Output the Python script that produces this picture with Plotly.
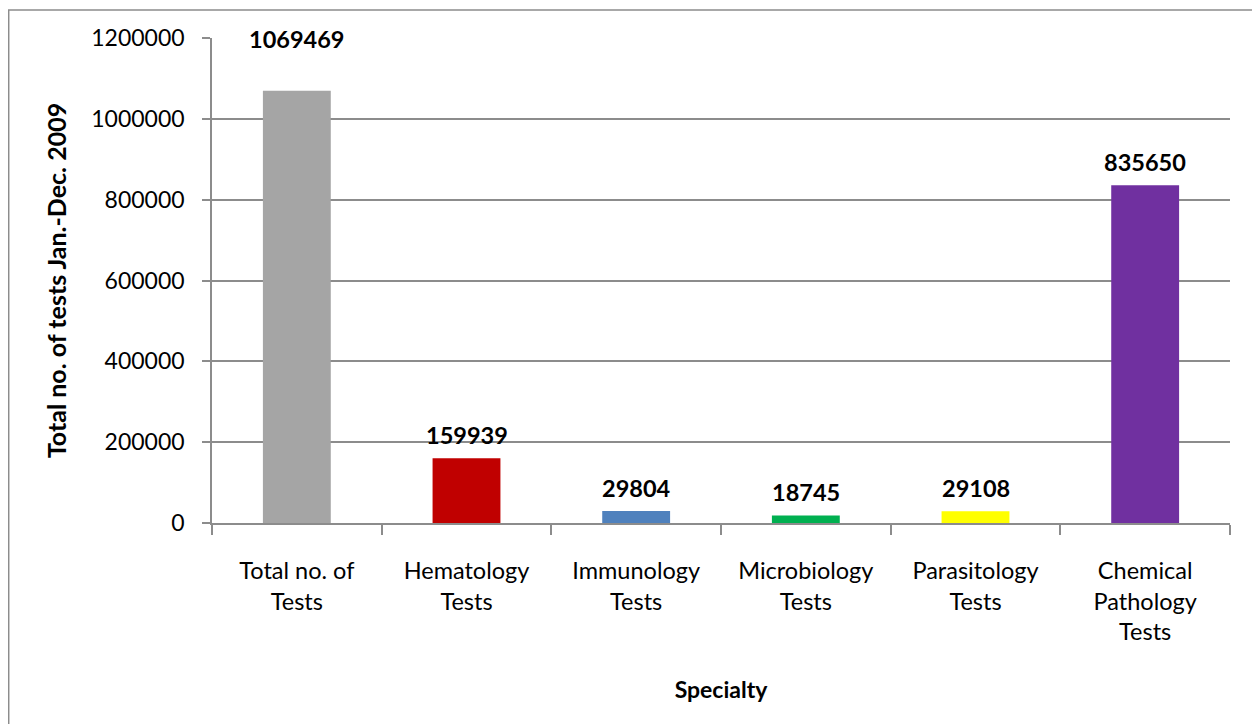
import plotly.graph_objects as go

categories = ["Total no. of<br>Tests", "Hematology<br>Tests", "Immunology<br>Tests",
              "Microbiology<br>Tests", "Parasitology<br>Tests", "Chemical<br>Pathology<br>Tests"]
values = [1069469, 159939, 29804, 18745, 29108, 835650]
colors = ["#A5A5A5", "#C00000", "#4F81BD", "#00B050", "#FFFF00", "#7030A0"]
y_ticks = [0, 200000, 400000, 600000, 800000, 1000000, 1200000]
label_offsets = [36, 7, 7, 7, 7, 7]

FONT = "Lato, 'Open Sans', sans-serif"

fig = go.Figure(go.Bar(
    x=categories, y=values, marker=dict(color=colors, line=dict(width=0)),
    hoverinfo="x+y",
))

annotations = [
    dict(x=c, y=v, xref="x", yref="y", text=f"<b>{v}</b>", showarrow=False,
         yanchor="bottom", yshift=off,
         font=dict(family=FONT, size=23.5, color="black"))
    for c, v, off in zip(categories, values, label_offsets)
]

fig.update_layout(
    width=1260, height=724,
    margin=dict(l=204, r=38, t=30, b=209),
    paper_bgcolor="white", plot_bgcolor="white",
    bargap=0.6, showlegend=False,
    font=dict(family=FONT, size=23, color="black"),
    xaxis=dict(
        showline=True, linecolor="#8c8c8c", linewidth=1.5,
        ticks="outside", ticklen=10, tickcolor="#8c8c8c", tickwidth=1.5,
        tickson="boundaries", tickfont=dict(size=23.5), ticklabelstandoff=26,
        title=dict(text="<b>Specialty</b>", font=dict(size=23), standoff=38),
    ),
    yaxis=dict(
        range=[0, 1200000], tickvals=y_ticks, ticktext=[str(t) for t in y_ticks],
        showgrid=True, gridcolor="#8c8c8c", gridwidth=1.5,
        showline=True, linecolor="#8c8c8c", linewidth=1.5,
        ticks="outside", ticklen=8, tickcolor="#8c8c8c", tickwidth=1.5,
        tickfont=dict(size=23), zeroline=False, ticklabelstandoff=13,
        title=dict(text="<b>Total no. of tests Jan.-Dec. 2009</b>", font=dict(size=25), standoff=18),
    ),
    annotations=annotations,
    shapes=[dict(type="rect", xref="paper", yref="paper",
                 x0=-0.1997, x1=1.0275, y0=-0.5, y1=1.0577,
                 line=dict(color="#8c8c8c", width=1.5), layer="below")],
)

fig.write_html("out.html")
